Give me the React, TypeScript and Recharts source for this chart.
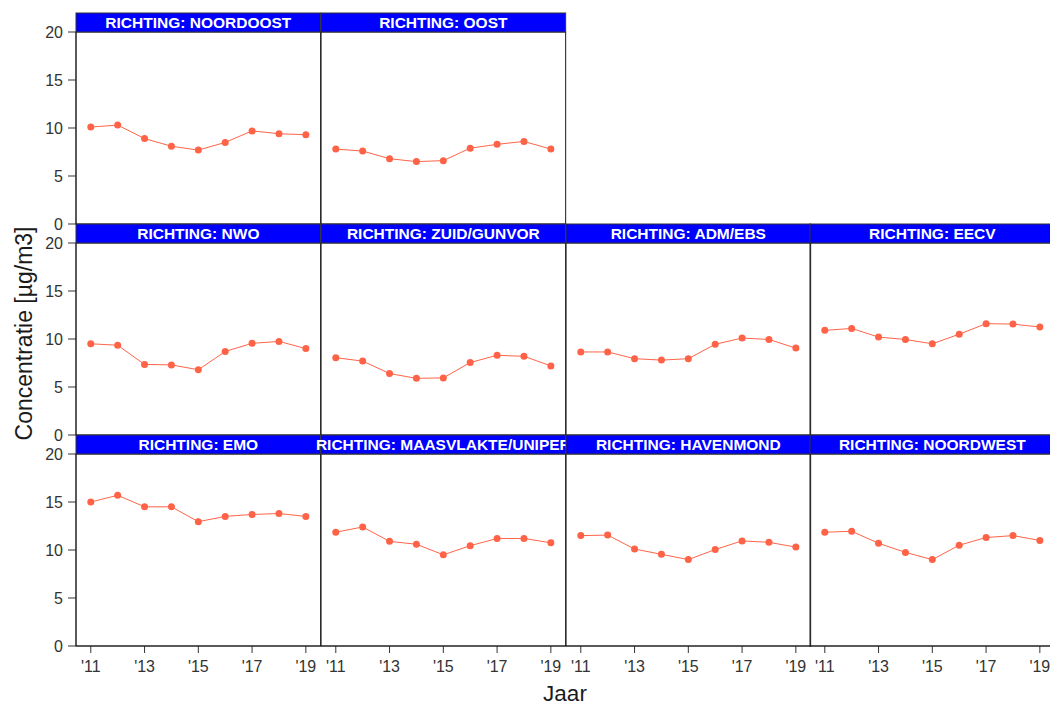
import React from 'react';
import { LineChart, Line, XAxis, YAxis } from 'recharts';

// ---------- data ----------
const YEARS = [2011, 2012, 2013, 2014, 2015, 2016, 2017, 2018, 2019];
const X_TICKS = [2011, 2013, 2015, 2017, 2019];
const Y_TICKS = [0, 5, 10, 15, 20];

const NOORDOOST = [10.1, 10.3, 8.9, 8.1, 7.7, 8.5, 9.7, 9.4, 9.3];
const OOST = [7.8, 7.6, 6.8, 6.5, 6.6, 7.9, 8.3, 8.6, 7.8];
const NWO = [9.5, 9.35, 7.35, 7.3, 6.8, 8.7, 9.55, 9.75, 9.0];
const ZUID_GUNVOR = [8.05, 7.7, 6.4, 5.9, 5.95, 7.55, 8.3, 8.2, 7.2];
const ADM_EBS = [8.65, 8.65, 7.95, 7.8, 7.95, 9.45, 10.1, 9.95, 9.05];
const EECV = [10.9, 11.1, 10.2, 9.95, 9.5, 10.5, 11.6, 11.55, 11.25];
const EMO = [15.0, 15.7, 14.5, 14.5, 12.95, 13.5, 13.7, 13.8, 13.5];
const MAASVLAKTE_UNIPER = [11.85, 12.4, 10.9, 10.6, 9.5, 10.45, 11.2, 11.2, 10.75];
const HAVENMOND = [11.5, 11.55, 10.1, 9.55, 9.0, 10.05, 10.95, 10.8, 10.3];
const NOORDWEST = [11.85, 11.95, 10.7, 9.75, 9.0, 10.5, 11.3, 11.5, 11.0];

const PANELS = [
  { title: 'RICHTING: NOORDOOST', values: NOORDOOST, row: 0, col: 0 },
  { title: 'RICHTING: OOST', values: OOST, row: 0, col: 1 },
  { title: 'RICHTING: NWO', values: NWO, row: 1, col: 0 },
  { title: 'RICHTING: ZUID/GUNVOR', values: ZUID_GUNVOR, row: 1, col: 1 },
  { title: 'RICHTING: ADM/EBS', values: ADM_EBS, row: 1, col: 2 },
  { title: 'RICHTING: EECV', values: EECV, row: 1, col: 3 },
  { title: 'RICHTING: EMO', values: EMO, row: 2, col: 0 },
  { title: 'RICHTING: MAASVLAKTE/UNIPER', values: MAASVLAKTE_UNIPER, row: 2, col: 1 },
  { title: 'RICHTING: HAVENMOND', values: HAVENMOND, row: 2, col: 2 },
  { title: 'RICHTING: NOORDWEST', values: NOORDWEST, row: 2, col: 3 },
];

// ---------- layout ----------
const FONT = '"Liberation Sans", Arial, Helvetica, sans-serif';
const LEFT0 = 76.2;
const PW = 244.65;
const ROW_TOP = [12.7, 223.7, 434.7];
const STRIP_H = 19;
const PLOT_H = 192;
const AXIS_W = 76;
const XAXIS_H = 40;
const LINE_COLOR = '#FF6347';
const TEXT_COLOR = '#333333';

const fmtYear = (v: number) => "'" + String(v).slice(2);

function Panel({ title, values, row, col }: { title: string; values: number[]; row: number; col: number }) {
  const data = YEARS.map((y, i) => ({ year: y, value: values[i] }));
  const colLeft = LEFT0 + col * PW;
  const top = ROW_TOP[row];
  const showY = col === 0;
  const showX = row === 2;
  const chartLeft = showY ? colLeft - AXIS_W : colLeft;
  const chartW = showY ? PW + AXIS_W : PW;
  const chartH = STRIP_H + PLOT_H + (showX ? XAXIS_H : 0);
  return (
    <>
      <div style={{ position: 'absolute', left: chartLeft, top, width: chartW, height: chartH }}>
        <LineChart
          width={chartW}
          height={chartH}
          data={data}
          margin={{ top: STRIP_H, right: 0, bottom: 0, left: 0 }}
        >
          <XAxis
            dataKey="year"
            type="number"
            domain={[2010.45, 2019.55]}
            allowDataOverflow
            ticks={X_TICKS}
            tickFormatter={fmtYear}
            hide={!showX}
            height={XAXIS_H}
            tickSize={7}
            tickMargin={8}
            axisLine={{ stroke: TEXT_COLOR }}
            tickLine={{ stroke: TEXT_COLOR }}
            tick={{ fontSize: 16, fill: TEXT_COLOR, fontFamily: FONT }}
            interval={0}
          />
          <YAxis
            type="number"
            domain={[0, 20]}
            ticks={Y_TICKS}
            hide={!showY}
            width={AXIS_W}
            tickSize={8}
            tickMargin={5}
            axisLine={{ stroke: TEXT_COLOR }}
            tickLine={{ stroke: TEXT_COLOR }}
            tick={{ fontSize: 16, fill: TEXT_COLOR, fontFamily: FONT }}
            interval={0}
          />
          <Line
            dataKey="value"
            type="linear"
            stroke={LINE_COLOR}
            strokeWidth={1}
            dot={{ r: 3.5, fill: LINE_COLOR, stroke: LINE_COLOR, strokeWidth: 0 }}
            activeDot={false}
            isAnimationActive={false}
          />
        </LineChart>
      </div>
      <svg
        width={PW}
        height={STRIP_H + PLOT_H}
        style={{ position: 'absolute', left: colLeft, top, overflow: 'visible', pointerEvents: 'none' }}
      >
        <rect x={0} y={STRIP_H} width={PW} height={PLOT_H} fill="none" stroke="#1a1a1a" strokeWidth={1} />
        <rect x={0} y={0} width={PW} height={STRIP_H} fill="#0000FF" stroke="#333333" strokeWidth={1} />
        <text
          x={PW / 2}
          y={STRIP_H / 2 + 5.6}
          textAnchor="middle"
          fill="#FFFFFF"
          fontWeight="bold"
          fontSize={15.5}
          fontFamily={FONT}
        >
          {title}
        </text>
      </svg>
    </>
  );
}

export default function App() {
  return (
    <div
      style={{
        position: 'absolute',
        left: 0,
        top: 0,
        width: 1050,
        height: 705,
        overflow: 'hidden',
        background: '#ffffff',
        fontFamily: FONT,
      }}
    >
      <style>{'.recharts-surface{overflow:visible !important}'}</style>
      {PANELS.map((p) => (
        <Panel key={p.title} title={p.title} values={p.values} row={p.row} col={p.col} />
      ))}
      <svg width={1050} height={705} style={{ position: 'absolute', left: 0, top: 0, pointerEvents: 'none' }}>
        <text
          x={31.5}
          y={333.5}
          transform="rotate(-90, 31.5, 333.5)"
          textAnchor="middle"
          fontSize={23}
          fontFamily={FONT}
          fill="#1a1a1a"
        >
          Concentratie [µg/m3]
        </text>
        <text x={565} y={700.5} textAnchor="middle" fontSize={22.5} fontFamily={FONT} fill="#1a1a1a">
          Jaar
        </text>
      </svg>
    </div>
  );
}
